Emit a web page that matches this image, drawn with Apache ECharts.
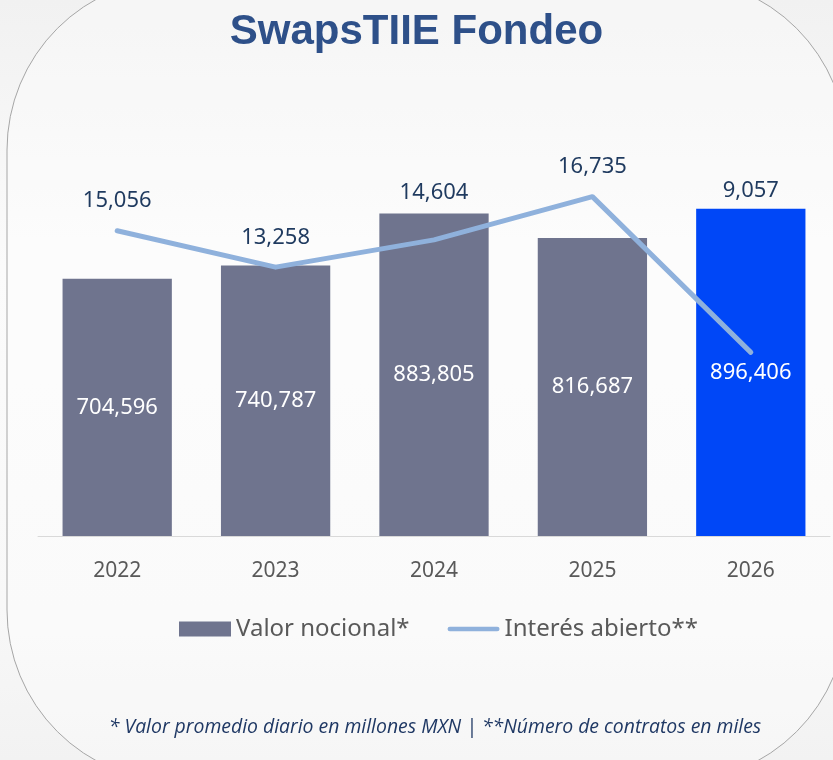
<!DOCTYPE html>
<html>
<head>
<meta charset="utf-8">
<script src="https://cdn.jsdelivr.net/npm/echarts@6/dist/echarts.min.js"></script>
<style>
  html, body { margin: 0; padding: 0; }
  #chart { width: 833px; height: 760px; }
</style>
</head>
<body>
<div id="chart"></div>
<script>
// Datos
const years = ['2022', '2023', '2024', '2025', '2026'];
const valorNocional = [704596, 740787, 883805, 816687, 896406];
const interesAbierto = [15056, 13258, 14604, 16735, 9057];

const GRIS_BARRA = '#6f748e';
const AZUL_ACTUAL = '#0047f7';
const AZUL_LINEA = '#8fb1dc';

// desplazamientos manuales de etiquetas de la linea (como en el original)
const lineLabelShift = { 2: -18, 4: -132 };

const chart = echarts.init(document.getElementById('chart'));

const fmt = function (v) { return v.toLocaleString('en-US'); };

chart.setOption({
  animation: false,
  backgroundColor: {
    type: 'linear', x: 0, y: 0, x2: 0, y2: 1,
    colorStops: [
      { offset: 0, color: '#f1f1f1' },
      { offset: 0.35, color: '#fbfbfb' },
      { offset: 0.8, color: '#f8f8f8' },
      { offset: 1, color: '#f2f2f2' }
    ]
  },
  title: {
    text: 'SwapsTIIE Fondeo',
    left: 'center',
    top: 6,
    textStyle: { fontFamily: 'Liberation Sans', fontWeight: 'bold', fontSize: 42, color: '#2e5089' }
  },
  graphic: [
    {
      type: 'rect', z: -1, silent: true,
      shape: { x: 7, y: -22, width: 840, height: 804, r: 172 },
      style: { fill: 'rgba(255,255,255,0.35)', stroke: '#a6a6a6', lineWidth: 1 }
    },
    {
      type: 'text', x: 435, y: 727,
      style: {
        text: '* Valor promedio diario en millones MXN | **Número de contratos en miles',
        fontFamily: 'Open Sans', fontStyle: 'italic', fontSize: 19.4,
        fill: '#1f3864', align: 'center', verticalAlign: 'middle'
      }
    }
  ],
  legend: {
    left: 174,
    top: 612,
    itemWidth: 52,
    itemHeight: 15,
    itemGap: 38,
    textStyle: { fontFamily: 'Noto Sans', fontSize: 24, color: '#595959' },
    data: [
      { name: 'Valor nocional*', icon: 'rect' },
      {
        name: 'Interés abierto**',
        icon: 'path://M2.5,0 L53.5,0 A2.5,2.5 0 0 1 53.5,5 L2.5,5 A2.5,2.5 0 0 1 2.5,0 Z'
      }
    ]
  },
  grid: { left: 38, right: 3, top: 171, bottom: 224 },
  xAxis: {
    type: 'category',
    data: years,
    axisTick: { show: false },
    axisLine: { lineStyle: { color: '#d9d9d9', width: 1 } },
    axisLabel: { margin: 25, fontFamily: 'Noto Sans', fontSize: 21, color: '#595959' }
  },
  yAxis: [
    { type: 'value', min: 0, max: 1000000, show: false, splitLine: { show: false } },
    { type: 'value', min: 0, max: 18000, show: false, splitLine: { show: false } }
  ],
  series: [
    {
      name: 'Valor nocional*',
      type: 'bar',
      barWidth: '69%',
      itemStyle: { color: GRIS_BARRA },
      label: {
        show: true, position: 'inside',
        fontFamily: 'Noto Sans', fontSize: 22, color: '#ffffff',
        formatter: function (p) { return fmt(p.value); }
      },
      data: valorNocional.map(function (v, i) {
        return i === valorNocional.length - 1 ? { value: v, itemStyle: { color: AZUL_ACTUAL } } : v;
      })
    },
    {
      name: 'Interés abierto**',
      type: 'line',
      yAxisIndex: 1,
      symbol: 'circle',
      symbolSize: 1,
      itemStyle: { color: AZUL_LINEA },
      lineStyle: { color: AZUL_LINEA, width: 5, cap: 'round', join: 'round' },
      label: {
        show: true, position: 'top', distance: 18,
        fontFamily: 'Noto Sans', fontSize: 22, color: '#1f3a5f',
        formatter: function (p) { return fmt(p.value); }
      },
      data: interesAbierto.map(function (v, i) {
        return lineLabelShift[i] !== undefined
          ? { value: v, label: { offset: [0, lineLabelShift[i]] } }
          : v;
      })
    }
  ]
});
</script>
</body>
</html>
